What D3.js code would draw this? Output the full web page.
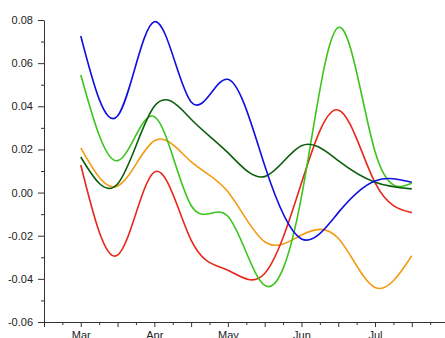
<!DOCTYPE html>
<html>
<head>
<meta charset="utf-8">
<script src="https://cdn.jsdelivr.net/npm/d3@7"></script>
<style>
    body { margin: 0; background: #fff; }
    svg { display: block; font-family: "Liberation Sans", Arial, sans-serif; }
    .axis path, .axis line { stroke: #333; }
    .axis text { fill: #222; font-size: 11px; }
    .series { fill: none; stroke-width: 1.6; }
</style>
</head>
<body>
<script>
// x positions are months after the start of March, sampled every half month
const months = [0, 0.5, 1, 1.5, 2, 2.5, 3, 3.5, 4, 4.5];
const monthLabels = ["Mar", "Apr", "May", "Jun", "Jul"];

const blueValues = [0.0726, 0.0355, 0.0792, 0.042, 0.0525, 0.0125, -0.0215, -0.0093, 0.0054, 0.0048];
const greenValues = [0.0545, 0.0148, 0.0352, -0.006, -0.011, -0.043, -0.002, 0.0765, 0.019, 0.0043];
const redValues = [0.0128, -0.029, 0.0095, -0.022, -0.036, -0.0375, 0.0044, 0.0383, 0.0046, -0.0093];
const darkGreenValues = [0.0165, 0.004, 0.040, 0.034, 0.0185, 0.0074, 0.0217, 0.0148, 0.0048, 0.0017];
const orangeValues = [0.0207, 0.003, 0.024, 0.0143, 0.0004, -0.0228, -0.0197, -0.0212, -0.044, -0.0293];

const yTicks = [-0.06, -0.04, -0.02, 0, 0.02, 0.04, 0.06, 0.08];

const series = [
    { values: orangeValues, color: "#f39c12" },
    { values: redValues, color: "#e8261c" },
    { values: greenValues, color: "#3cc41c" },
    { values: darkGreenValues, color: "#0b5e0b" },
    { values: blueValues, color: "#0f0fe0" },
];

const WIDTH = 445;
const HEIGHT = 338;

const svg = d3.select("body")
    .append("svg")
    .attr("width", WIDTH)
    .attr("height", HEIGHT);

const x = d3.scaleLinear()
    .domain([-0.5, 5])
    .range([44, 44 + 5.5 * 73.56]);

const y = d3.scaleLinear()
    .domain([-0.06, 0.08])
    .range([322, 20]);

/**** AXES ****/

// minor ticks first, so the labelled axis draws over them
const xMinor = d3.range(-0.5, 5.01, 0.25).filter(m => Math.abs(m * 2 - Math.round(m * 2)) > 0.01);
svg.append("g")
    .attr("class", "axis")
    .attr("transform", `translate(0, ${y.range()[0]})`)
    .call(d3.axisBottom(x).tickValues(xMinor).tickSize(3).tickFormat(""))
    .call(g => g.select(".domain").remove());

const xMajor = d3.range(-0.5, 5.01, 0.5);
svg.append("g")
    .attr("class", "axis")
    .attr("transform", `translate(0, ${y.range()[0]})`)
    .call(d3.axisBottom(x)
        .tickValues(xMajor)
        .tickSize(5)
        .tickSizeOuter(0)
        .tickPadding(4)
        .tickFormat(m => Number.isInteger(m) && m >= 0 ? monthLabels[m] || "" : ""));

const yMinor = d3.range(-0.05, 0.08, 0.02);
svg.append("g")
    .attr("class", "axis")
    .attr("transform", `translate(${x.range()[0]}, 0)`)
    .call(d3.axisLeft(y).tickValues(yMinor).tickSize(3).tickFormat(""))
    .call(g => g.select(".domain").remove());

svg.append("g")
    .attr("class", "axis")
    .attr("transform", `translate(${x.range()[0]}, 0)`)
    .call(d3.axisLeft(y)
        .tickValues(yTicks)
        .tickSize(6)
        .tickSizeOuter(0)
        .tickPadding(5)
        .tickFormat(v => v.toFixed(2)));

/**** LINES ****/

const line = d3.line()
    .x((v, i) => x(months[i]))
    .y(v => y(v))
    .curve(d3.curveNatural);

svg.selectAll("path.series")
    .data(series)
    .join("path")
    .classed("series", true)
    .attr("stroke", s => s.color)
    .attr("d", s => line(s.values));
</script>
</body>
</html>
